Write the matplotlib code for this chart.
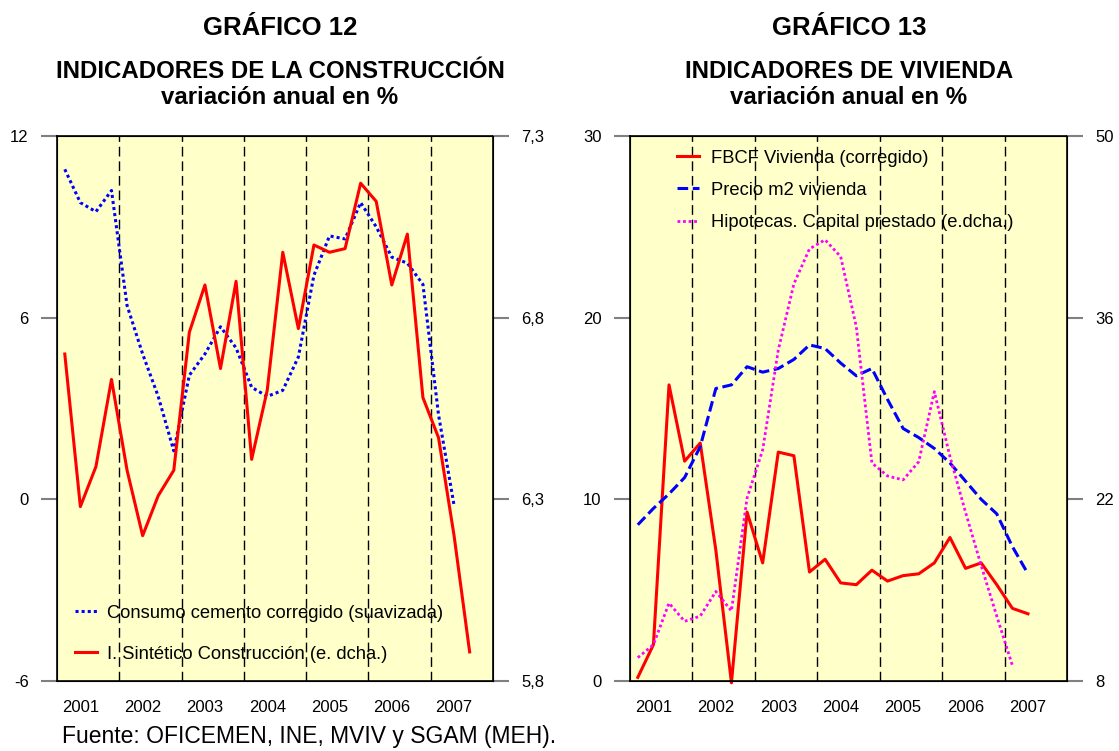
import matplotlib.pyplot as plt
import numpy as np

plt.rcParams['font.family'] = ['Liberation Sans', 'DejaVu Sans']

years = ['2001', '2002', '2003', '2004', '2005', '2006', '2007']

# GRÁFICO 12 (quarterly, from 2001 Q1)
cemento = [10.9, 9.8, 9.5, 10.2, 6.4, 4.8, 3.4, 1.6, 4.1, 4.8, 5.7, 5.0, 3.7,
           3.4, 3.6, 4.7, 7.4, 8.7, 8.6, 9.8, 9.0, 8.0, 7.8, 7.1, 2.8, -0.2]
sintetico = [6.70, 6.28, 6.39, 6.63, 6.38, 6.20, 6.31, 6.38, 6.76, 6.89, 6.66,
             6.90, 6.41, 6.60, 6.98, 6.77, 7.00, 6.98, 6.99, 7.17, 7.12, 6.89,
             7.03, 6.58, 6.47, 6.20, 5.88]

# GRÁFICO 13
fbcf = [0.2, 2.0, 16.3, 12.1, 13.1, 7.2, -0.1, 9.3, 6.5, 12.6, 12.4, 6.0, 6.7,
        5.4, 5.3, 6.1, 5.5, 5.8, 5.9, 6.5, 7.9, 6.2, 6.5, 5.3, 4.0, 3.7]
precio_m2 = [8.6, 9.5, 10.3, 11.2, 12.9, 16.1, 16.3, 17.3, 17.0, 17.2, 17.7,
             18.5, 18.3, 17.5, 16.8, 17.2, 15.5, 13.9, 13.4, 12.8, 12.0, 11.0,
             10.0, 9.2, 7.4, 5.9]
hipotecas = [9.8, 10.8, 14.0, 12.6, 13.0, 14.9, 13.4, 22.1, 25.8, 33.5, 38.6,
             41.3, 42.0, 40.7, 35.3, 24.8, 23.8, 23.5, 24.9, 30.3, 25.3, 21.0,
             16.9, 13.0, 9.2]

BG = '#FFFFCA'
TICKC = '#808080'

fig = plt.figure(figsize=(11.19, 7.51), dpi=100)
W, H = 1119, 751


def make_panel(x0, x1, yl, yr):
    ax = fig.add_axes([x0 / W, 1 - 681 / H, (x1 - x0) / W, 545 / H])
    ax.set_facecolor(BG)
    ax.set_xlim(-0.5, 27.5)
    ax.set_ylim(yl[0], yl[-1])
    ax.set_yticks(yl)
    for b in np.arange(3.5, 24, 4):
        ax.axvline(b, color='black', lw=1, ls=(0, (7, 3.5)), zorder=1)
    ax.set_xticks(np.arange(1, 26, 4))
    ax.set_xticklabels(years, fontsize=12)
    ax.tick_params(axis='x', length=0, pad=14)
    ax.tick_params(axis='y', length=11.5, width=1.5, color=TICKC,
                   labelsize=12, pad=9)
    for s in ax.spines.values():
        s.set_linewidth(1.2)
    ax2 = ax.twinx()
    ax2.set_xlim(-0.5, 27.5)
    ax2.set_ylim(yr[0], yr[-1])
    ax2.set_yticks(yr)
    ax2.tick_params(axis='y', length=11.5, width=1.5, color=TICKC,
                    labelsize=12, pad=9)
    return ax, ax2


# ---- GRÁFICO 12 ----
ax, ax2 = make_panel(57, 493, [-6, 0, 6, 12], [5.8, 6.3, 6.8, 7.3])
ax.set_yticklabels(['-6', '0', '6', '12'])
ax2.set_yticklabels(['5,8', '6,3', '6,8', '7,3'])
l1, = ax.plot(np.arange(len(cemento)), cemento, color='#0000FF', lw=2.2,
              ls=(0, (1, 1)), label='Consumo cemento corregido (suavizada)')
l2, = ax2.plot(np.arange(len(sintetico)), sintetico, color='#FF0000', lw=2.2,
               label='I. Sintético Construcción (e. dcha.)')
ax2.legend([l1, l2], [l1.get_label(), l2.get_label()], loc='upper left',
           bbox_to_anchor=(0.041, 0.14), frameon=False, fontsize=13.2,
           borderpad=0, borderaxespad=0, handlelength=1.2, handletextpad=0.55,
           labelspacing=1.3)

# ---- GRÁFICO 13 ----
bx, bx2 = make_panel(630, 1067, [0, 10, 20, 30], [8, 22, 36, 50])
bx.set_yticklabels(['0', '10', '20', '30'])
bx2.set_yticklabels(['8', '22', '36', '50'])
m1, = bx.plot(np.arange(len(fbcf)), fbcf, color='#FF0000', lw=2.2,
              label='FBCF Vivienda (corregido)', clip_on=False)
m2, = bx.plot(np.arange(len(precio_m2)), precio_m2, color='#0000FF', lw=2.2,
              ls=(0, (3.5, 1.5)), label='Precio m2 vivienda')
m3, = bx2.plot(np.arange(len(hipotecas)), hipotecas, color='#FF00FF', lw=2,
               ls=(0, (1, 1)), label='Hipotecas. Capital prestado (e.dcha.)')
bx2.legend([m1, m2, m3], [m.get_label() for m in (m1, m2, m3)],
           loc='upper left', bbox_to_anchor=(0.1075, 0.975), frameon=False,
           fontsize=13.2, borderpad=0, borderaxespad=0, handlelength=1.2,
           handletextpad=0.65, labelspacing=0.83)

# titles
for cx, num, sub in [(280, '12', 'INDICADORES DE LA CONSTRUCCIÓN'),
                     (849, '13', 'INDICADORES DE VIVIENDA')]:
    fig.text(cx / W, 1 - 28 / H, 'GRÁFICO ' + num, ha='center', va='center',
             fontsize=18.5, fontweight='bold')
    fig.text(cx / W, 1 - 72 / H, sub, ha='center', va='center',
             fontsize=17.3, fontweight='bold')
    fig.text(cx / W, 1 - 98 / H, 'variación anual en %', ha='center',
             va='center', fontsize=17.3, fontweight='bold')

fig.text(62 / W, 1 - 737 / H, 'Fuente: OFICEMEN, INE, MVIV y SGAM (MEH).',
         ha='left', va='center', fontsize=16.5)

fig.savefig('out.png', dpi=100)
